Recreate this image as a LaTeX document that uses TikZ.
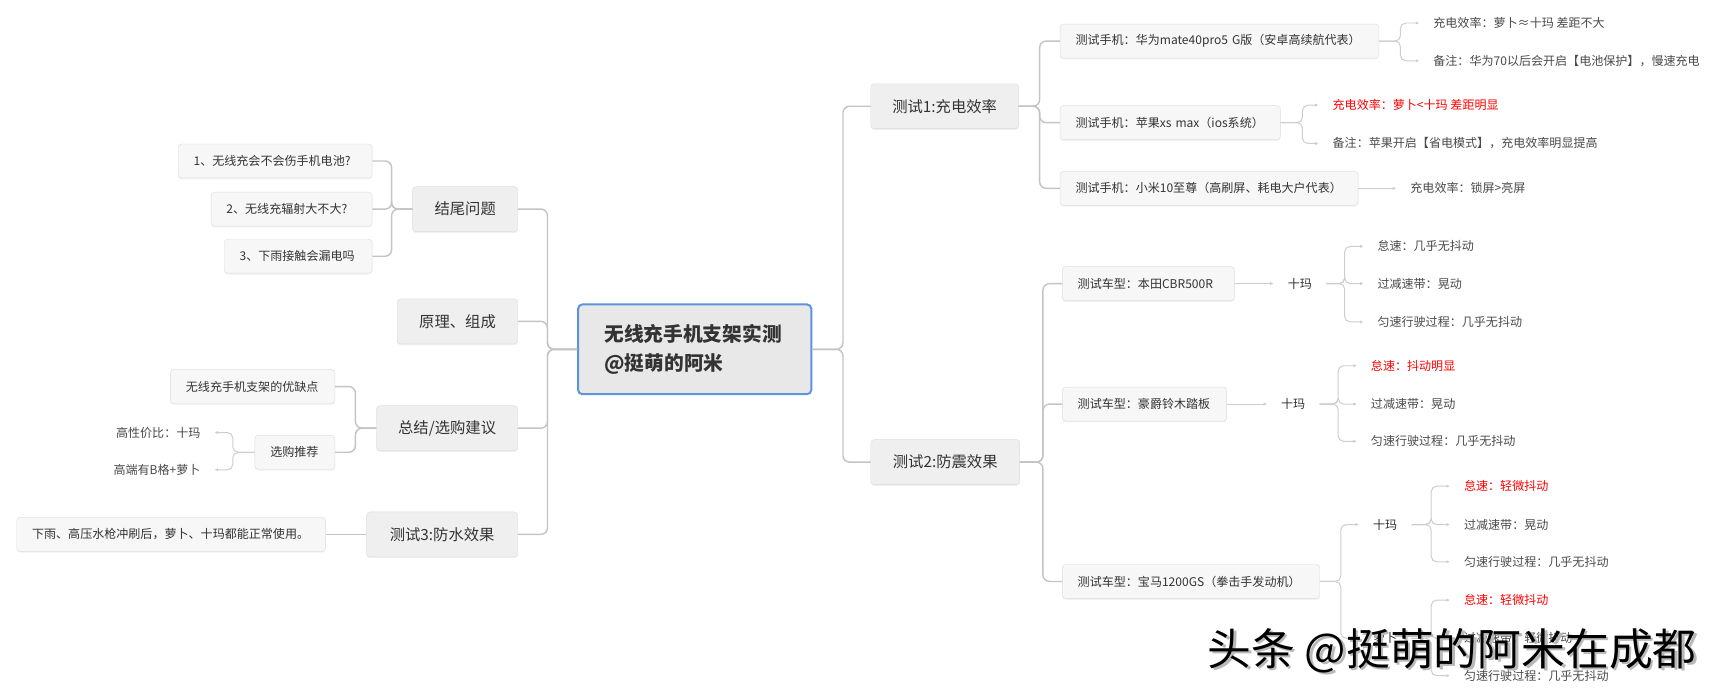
\documentclass[tikz,border=0pt]{standalone}
\usepackage{fontspec}
\setmainfont{Noto Sans CJK SC}
\usepackage{tikz}
\usetikzlibrary{arrows.meta,positioning,shadows}

\definecolor{linegray}{HTML}{C4C4C4}
\definecolor{twiggray}{HTML}{CDCDCD}
\definecolor{boxline}{HTML}{DEDEDE}
\definecolor{boxfill}{HTML}{F7F7F7}
\definecolor{topicfill}{HTML}{EFEFEF}
\definecolor{rootfill}{HTML}{E8E8E8}
\definecolor{rootline}{HTML}{5B95DE}
\definecolor{txt}{HTML}{333333}
\definecolor{leaftxt}{HTML}{4A4A4A}

\begin{document}
\begin{tikzpicture}[
  x=1pt, y=-1pt,
  >={Latex[length=3pt,width=3pt]},
  every node/.style={font=\fontsize{11}{13}\selectfont, text=txt},
  root/.style={draw=rootline, line width=1.8pt, fill=rootfill, rounded corners=4pt, inner xsep=24pt, text width=165pt, minimum height=82pt, align=left, font=\fontsize{18}{27}\selectfont\bfseries},
  topic/.style={draw=boxline, fill=topicfill, rounded corners=3pt, minimum height=41pt, font=\fontsize{14}{16}\selectfont, drop shadow={shadow xshift=0pt, shadow yshift=-1.2pt, opacity=0.12}},
  subbox/.style={draw=boxline, fill=boxfill, rounded corners=3pt, minimum height=31pt, inner xsep=14pt, text width=#1, align=left, drop shadow={shadow xshift=0pt, shadow yshift=-1.2pt, opacity=0.10}},
  leaf/.style={inner xsep=0pt, inner ysep=2pt, outer xsep=13pt, text=leaftxt},
  hot/.style={leaf, text=red},
  link/.style={draw=linegray, line width=1.3pt, rounded corners=6pt},
  twig/.style={draw=twiggray, line width=0.9pt, rounded corners=5pt, ->}
]
\fill[white] (0,0) rectangle (1568,633);

\node[root, anchor=west] (root) at (527,319) {无线充手机支架实测\\@挺萌的阿米};

% right side
\node[topic, anchor=west, minimum width=135pt] (t1) at (795,97) {测试1:充电效率};
\node[topic, anchor=west, minimum width=136pt] (t2) at (795,422) {测试2:防震效果};

\node[subbox=263pt, anchor=west] (hw) at (968,37.5) {测试手机：华为mate40pro5~G版（安卓高续航代表）};
\node[subbox=173pt, anchor=west] (ap) at (968,112) {测试手机：苹果xs~max（ios系统）};
\node[subbox=244pt, anchor=west] (mi) at (968,172) {测试手机：小米10至尊（高刷屏、耗电大户代表）};

\node[leaf, anchor=west] (hw1) at (1296,21) {充电效率：萝卜≈十玛 差距不大};
\node[leaf, anchor=west] (hw2) at (1296,55.5) {备注：华为70以后会开启【电池保护】，慢速充电};
\node[hot, anchor=west] (ap1) at (1204,96) {充电效率：萝卜<十玛 差距明显};
\node[leaf, anchor=west] (ap2) at (1204,131) {备注：苹果开启【省电模式】，充电效率明显提高};
\node[leaf, anchor=west] (mi1) at (1275,172) {充电效率：锁屏>亮屏};

\node[subbox=129pt, anchor=west] (bt) at (970,259) {测试车型：本田CBR500R};
\node[subbox=122pt, anchor=west] (hj) at (970,369) {测试车型：豪爵铃木踏板};
\node[subbox=207pt, anchor=west] (bm) at (970,531) {测试车型：宝马1200GS（拳击手发动机）};

\node[leaf, text=txt, anchor=west] (btm) at (1163,259) {十玛};
\node[leaf, anchor=west] (bt1) at (1245,225) {怠速：几乎无抖动};
\node[leaf, anchor=west] (bt2) at (1245,259) {过减速带：晃动};
\node[leaf, anchor=west] (bt3) at (1245,294) {匀速行驶过程：几乎无抖动};

\node[leaf, text=txt, anchor=west] (hjm) at (1157,369) {十玛};
\node[hot, anchor=west] (hj1) at (1239,334) {怠速：抖动明显};
\node[leaf, anchor=west] (hj2) at (1239,369) {过减速带：晃动};
\node[leaf, anchor=west] (hj3) at (1239,403) {匀速行驶过程：几乎无抖动};

\node[leaf, text=txt, anchor=west] (bmm) at (1241,479) {十玛};
\node[hot, anchor=west] (bm1) at (1324,444) {怠速：轻微抖动};
\node[leaf, anchor=west] (bm2) at (1324,479) {过减速带：晃动};
\node[leaf, anchor=west] (bm3) at (1324,513) {匀速行驶过程：几乎无抖动};

\node[leaf, text=txt, anchor=west] (bml) at (1241,583) {萝卜};
\node[hot, anchor=west] (bl1) at (1324,548) {怠速：轻微抖动};
\node[leaf, anchor=west] (bl2) at (1324,583) {过减速带：轻微抖动};
\node[leaf, anchor=west] (bl3) at (1324,617) {匀速行驶过程：几乎无抖动};

% left side
\node[topic, anchor=east, minimum width=96pt] (jw) at (473,191) {结尾问题};
\node[topic, anchor=east, minimum width=110pt] (yl) at (473,293.5) {原理、组成};
\node[topic, anchor=east, minimum width=129pt] (zj) at (473,391) {总结/选购建议};
\node[topic, anchor=east, minimum width=138pt] (t3) at (473,488) {测试3:防水效果};

\node[subbox=149pt, anchor=east] (q1) at (340,147) {1、无线充会不会伤手机电池?};
\node[subbox=119pt, anchor=east] (q2) at (340,191) {2、无线充辐射大不大?};
\node[subbox=107pt, anchor=east] (q3) at (340,234) {3、下雨接触会漏电吗};

\node[subbox=122pt, anchor=east] (yq) at (306,353) {无线充手机支架的优缺点};
\node[subbox=45pt, anchor=east] (xg) at (306,413) {选购推荐};
\node[leaf, anchor=east] (xg1) at (196,395) {高性价比：十玛};
\node[leaf, anchor=east] (xg2) at (196,429) {高端有B格+萝卜};

\node[subbox=254pt, anchor=east] (fs) at (297.5,488) {下雨、高压水枪冲刷后，萝卜、十玛都能正常使用。};

% connectors
\foreach \n in {t1,t2} \draw[link] (root.east) -- ++(28,0) |- (\n.west);
\foreach \n in {hw,ap,mi} \draw[link] (t1.east) -- ++(19,0) |- (\n.west);
\foreach \n in {bt,hj,bm} \draw[link] (t2.east) -- ++(21,0) |- (\n.west);
\foreach \n in {hw1,hw2} \draw[twig] (hw.east) -- ++(19.5,0) |- (\n.west);
\foreach \n in {ap1,ap2} \draw[twig] (ap.east) -- ++(20,0) |- (\n.west);
\draw[twig] (mi.east) -- (mi1.west);
\draw[twig] (bt.east) -- (btm.west);
\foreach \n in {bt1,bt2,bt3} \draw[twig] (btm.east) -- ++(17,0) |- (\n.west);
\draw[twig] (hj.east) -- (hjm.west);
\foreach \n in {hj1,hj2,hj3} \draw[twig] (hjm.east) -- ++(17,0) |- (\n.west);
\foreach \n in {bmm,bml} \draw[twig] (bm.east) -- ++(19,0) |- (\n.west);
\foreach \n in {bm1,bm2,bm3} \draw[twig] (bmm.east) -- ++(18,0) |- (\n.west);
\foreach \n in {bl1,bl2,bl3} \draw[twig] (bml.east) -- ++(18,0) |- (\n.west);

\foreach \n in {jw,yl,zj,t3} \draw[link] (root.west) -- ++(-27,0) |- (\n.east);
\foreach \n in {q1,q2,q3} \draw[link] (jw.west) -- ++(-19,0) |- (\n.east);
\foreach \n in {yq,xg} \draw[link] (zj.west) -- ++(-19,0) |- (\n.east);
\foreach \n in {xg1,xg2} \draw[twig] (xg.west) -- ++(-20,0) |- (\n.east);
\draw[link] (t3.west) -- (fs.east);

% watermark
\node[font=\fontsize{40}{40}\selectfont, text=gray!55] (wmshade) at (1328.5,596.5) {头条 @挺萌的阿米在成都};
\node[font=\fontsize{40}{40}\selectfont, text=black] (wm) at (1326,594) {头条 @挺萌的阿米在成都};
\end{tikzpicture}
\end{document}
